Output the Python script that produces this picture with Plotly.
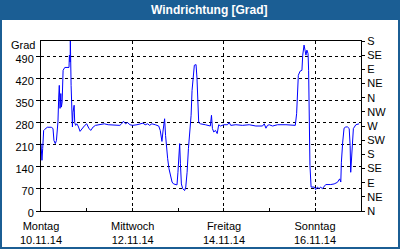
import plotly.graph_objects as go

# ---- data ----
times = [
    "2014-11-10 00:00", "2014-11-10 00:12", "2014-11-10 00:30", "2014-11-10 00:54", "2014-11-10 01:24",
    "2014-11-10 01:54", "2014-11-10 03:18", "2014-11-10 05:24", "2014-11-10 06:18", "2014-11-10 06:48",
    "2014-11-10 07:30", "2014-11-10 08:06", "2014-11-10 08:54", "2014-11-10 09:18", "2014-11-10 09:36",
    "2014-11-10 10:00", "2014-11-10 10:24", "2014-11-10 10:42", "2014-11-10 11:06", "2014-11-10 11:36",
    "2014-11-10 12:06", "2014-11-10 12:30", "2014-11-10 14:42", "2014-11-10 14:54", "2014-11-10 15:18",
    "2014-11-10 15:24", "2014-11-10 15:48", "2014-11-10 16:06", "2014-11-10 16:30", "2014-11-10 16:48",
    "2014-11-10 17:24", "2014-11-10 17:42", "2014-11-10 18:12", "2014-11-10 18:48", "2014-11-10 19:30",
    "2014-11-10 20:30", "2014-11-10 21:36", "2014-11-10 23:00", "2014-11-11 00:00", "2014-11-11 01:06",
    "2014-11-11 02:06", "2014-11-11 03:24", "2014-11-11 04:36", "2014-11-11 06:54", "2014-11-11 09:12",
    "2014-11-11 11:18", "2014-11-11 14:48", "2014-11-11 17:24", "2014-11-11 18:18", "2014-11-11 19:18",
    "2014-11-11 20:24", "2014-11-11 21:24", "2014-11-11 22:42", "2014-11-12 00:06", "2014-11-12 02:24",
    "2014-11-12 05:30", "2014-11-12 06:42", "2014-11-12 08:00", "2014-11-12 09:00", "2014-11-12 10:12",
    "2014-11-12 12:00", "2014-11-12 13:48", "2014-11-12 14:36", "2014-11-12 15:30", "2014-11-12 16:00",
    "2014-11-12 16:54", "2014-11-12 17:24", "2014-11-12 17:48", "2014-11-12 18:30", "2014-11-12 19:12",
    "2014-11-12 19:54", "2014-11-12 20:48", "2014-11-12 21:36", "2014-11-12 23:24", "2014-11-12 23:54",
    "2014-11-13 00:30", "2014-11-13 00:48", "2014-11-13 01:12", "2014-11-13 01:42", "2014-11-13 02:24",
    "2014-11-13 03:24", "2014-11-13 04:00", "2014-11-13 04:42", "2014-11-13 05:24", "2014-11-13 05:54",
    "2014-11-13 06:24", "2014-11-13 06:48", "2014-11-13 07:18", "2014-11-13 07:48", "2014-11-13 08:30",
    "2014-11-13 09:24", "2014-11-13 09:54", "2014-11-13 10:48", "2014-11-13 11:42", "2014-11-13 14:18",
    "2014-11-13 16:06", "2014-11-13 16:54", "2014-11-13 17:30", "2014-11-13 18:00", "2014-11-13 18:42",
    "2014-11-13 19:36", "2014-11-13 20:30", "2014-11-13 21:18", "2014-11-13 22:12", "2014-11-14 00:00",
    "2014-11-14 01:54", "2014-11-14 02:48", "2014-11-14 03:36", "2014-11-14 06:18", "2014-11-14 09:48",
    "2014-11-14 13:18", "2014-11-14 16:48", "2014-11-14 20:18", "2014-11-14 21:12", "2014-11-14 22:06",
    "2014-11-14 22:54", "2014-11-14 23:48", "2014-11-15 01:36", "2014-11-15 04:12", "2014-11-15 08:36",
    "2014-11-15 13:30", "2014-11-15 14:12", "2014-11-15 14:36", "2014-11-15 15:06", "2014-11-15 16:00",
    "2014-11-15 17:00", "2014-11-15 17:24", "2014-11-15 18:06", "2014-11-15 18:36", "2014-11-15 19:06",
    "2014-11-15 19:36", "2014-11-15 20:12", "2014-11-15 20:30", "2014-11-15 20:54", "2014-11-15 21:12",
    "2014-11-15 21:48", "2014-11-15 23:30", "2014-11-16 00:12", "2014-11-16 01:06", "2014-11-16 02:00",
    "2014-11-16 02:48", "2014-11-16 03:42", "2014-11-16 05:30", "2014-11-16 08:06", "2014-11-16 09:54",
    "2014-11-16 11:36", "2014-11-16 12:48", "2014-11-16 13:24", "2014-11-16 13:42", "2014-11-16 14:24",
    "2014-11-16 15:06", "2014-11-16 16:00", "2014-11-16 16:54", "2014-11-16 17:48", "2014-11-16 18:18",
    "2014-11-16 18:36", "2014-11-16 19:00", "2014-11-16 19:30", "2014-11-16 20:00", "2014-11-16 21:18",
    "2014-11-16 23:00",
]
direction_deg = [
    214, 182, 161, 199, 256,
    259, 266, 266, 262, 224,
    214, 224, 283, 362, 399,
    326, 373, 330, 346, 447,
    452, 456, 456, 495, 473,
    550, 399, 336, 267, 314,
    336, 281, 272, 277, 270,
    253, 262, 272, 277, 263,
    256, 267, 272, 274, 277,
    274, 274, 272, 277, 285,
    277, 281, 274, 272, 274,
    279, 274, 277, 272, 277,
    274, 270, 256, 221, 251,
    293, 240, 208, 166, 134,
    113, 92, 86, 83, 123,
    182, 214, 150, 86, 71,
    65, 76, 123, 198, 240,
    272, 304, 383, 431, 463,
    465, 420, 281, 277, 274,
    272, 270, 304, 262, 251,
    256, 246, 274, 270, 274,
    274, 281, 272, 274, 272,
    274, 270, 270, 277, 263,
    272, 274, 270, 274, 274,
    272, 309, 357, 431, 444,
    447, 495, 527, 511, 495,
    511, 500, 447, 272, 145,
    76, 76, 68, 76, 71,
    76, 71, 84, 84, 86,
    91, 102, 92, 155, 219,
    263, 267, 267, 262, 208,
    123, 177, 227, 262, 274,
    277,
]

x_tick_vals = ["2014-11-10", "2014-11-12", "2014-11-14", "2014-11-16"]
x_tick_text = ["Montag<br>10.11.14", "Mittwoch<br>12.11.14", "Freitag<br>14.11.14", "Sonntag<br>16.11.14"]
x_range = ["2014-11-10", "2014-11-17"]

left_tick_vals = [0, 70, 140, 210, 280, 350, 420, 490]
right_tick_vals = [0, 45, 90, 135, 180, 225, 270, 315, 360, 405, 450, 495, 540]
right_tick_text = ["N", "NE", "E", "SE", "S", "SW", "W", "NW", "N", "NE", "E", "SE", "S"]
y_range = [0, 540]

title_text = "Windrichtung [Grad]"
unit_text = "Grad"

# ---- layout constants ----
W, H = 400, 250
L, R, T, B = 41, 39, 41, 39
PW, PH = W - L - R, H - T - B
BLUE = "#1b5e94"
FONT = "Liberation Sans"


def px(x):
    return (x - L) / PW


def py(y):
    return (H - B - y) / PH


fig = go.Figure()
fig.add_trace(go.Scatter(x=times, y=direction_deg, mode="lines",
                         line=dict(color="#0000ff", width=1), showlegend=False))
fig.add_trace(go.Scatter(x=[times[0]], y=[0], yaxis="y2", mode="markers",
                         marker=dict(opacity=0), showlegend=False, hoverinfo="skip"))

# x-axis day labels (two lines each), placed at the axis' own tick positions
x_label_annotations = [
    dict(text=txt, xref="x", yref="paper", x=val, y=py(232.5),
         xanchor="center", yanchor="middle", showarrow=False,
         font=dict(family=FONT, size=11, color="black"))
    for val, txt in zip(x_tick_vals, x_tick_text)
]

fig.update_layout(
    width=W, height=H,
    margin=dict(l=L, r=R, t=T, b=B, pad=0),
    paper_bgcolor="white", plot_bgcolor="white",
    font=dict(family=FONT, size=11, color="black"),
    xaxis=dict(
        type="date", range=x_range, tickvals=x_tick_vals, showticklabels=False,
        showgrid=True, gridcolor="black", griddash="3px,3px", gridwidth=1,
        showline=True, linecolor="black", linewidth=1, mirror=True,
        ticks="inside", ticklen=3, tickcolor="black",
        minor=dict(dtick=86400000, ticks="inside", ticklen=3, tickcolor="black", showgrid=False),
        zeroline=False, fixedrange=True,
    ),
    yaxis=dict(
        range=y_range, tickvals=left_tick_vals,
        showgrid=True, gridcolor="black", griddash="3px,3px", gridwidth=1,
        showline=True, linecolor="black", linewidth=1, mirror=True,
        ticks="outside", ticklen=4, tickcolor="black", zeroline=False,
        ticklabelshift=2,
    ),
    yaxis2=dict(
        range=y_range, overlaying="y", side="right", tickvals=right_tick_vals,
        ticktext=right_tick_text, showgrid=False, showline=True, linecolor="black",
        ticks="outside", ticklen=3, tickcolor="black", zeroline=False,
    ),
    shapes=[
        dict(type="rect", xref="paper", yref="paper", x0=px(0), x1=px(W), y0=py(20), y1=py(0),
             fillcolor=BLUE, line=dict(width=0), layer="above"),
        dict(type="rect", xref="paper", yref="paper", x0=px(1), x1=px(W - 1), y0=py(H - 2), y1=py(1),
             fillcolor="rgba(0,0,0,0)", line=dict(color=BLUE, width=2), layer="above"),
    ],
    annotations=[
        dict(text="<b>" + title_text + "</b>", xref="paper", yref="paper", x=px(209.5), y=py(10),
             xanchor="center", yanchor="middle", showarrow=False,
             font=dict(family=FONT, size=12, color="white")),
        dict(text=unit_text, xref="paper", yref="paper", x=px(37), y=py(45),
             xanchor="right", yanchor="middle", showarrow=False,
             font=dict(family=FONT, size=11, color="black")),
    ] + x_label_annotations,
)

fig.write_html("out.html")
